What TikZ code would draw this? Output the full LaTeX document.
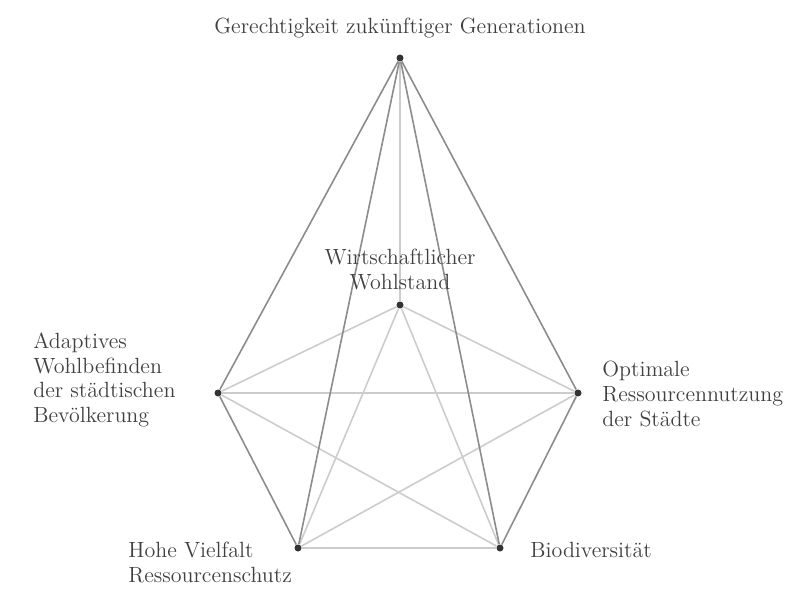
\documentclass[tikz,border=0pt]{standalone}
\usepackage{tikz}
\usetikzlibrary{positioning}
\begin{document}
\begin{tikzpicture}[
    x=0.5pt, y=-0.5pt,
    vtx/.style={circle, fill=black!80, inner sep=0pt, minimum size=3.5pt},
    edge/.style={draw=black!45, line width=0.8pt},
    back/.style={draw=black!20, line width=0.8pt},
    lbl/.style={font=\fontsize{11}{12.3}\selectfont, text=black!75, align=left, inner sep=0pt},
  ]
  \useasboundingbox (0,0) rectangle (796,593);

  % Vertices (apex and base)
  \node[vtx] (A)  at (400,58)  {};
  \node[vtx] (C)  at (400,305) {};
  \node[vtx] (L)  at (218,393) {};
  \node[vtx] (R)  at (578,393) {};
  \node[vtx] (BL) at (298,548) {};
  \node[vtx] (BR) at (500,548) {};

  % Base, back edges
  \draw[back] (L) -- (R);
  \draw[back] (BL) -- (BR);
  \draw[back] (L) -- (BR);
  \draw[back] (R) -- (BL);
  \draw[back] (C) -- (L);
  \draw[back] (C) -- (R);
  \draw[back] (C) -- (BL);
  \draw[back] (C) -- (BR);
  \draw[back] (A) -- (C);

  % Front edges
  \draw[edge] (A) -- (L);
  \draw[edge] (A) -- (R);
  \draw[edge] (A) -- (BL);
  \draw[edge] (A) -- (BR);
  \draw[edge] (L) -- (BL);
  \draw[edge] (R) -- (BR);

  % Labels
  \node[lbl, anchor=south] (tA) at (400,38) {Gerechtigkeit zukünftiger Generationen};
  \node[lbl, align=center, anchor=south] (tC) at (400,290) {Wirtschaftlicher\\Wohlstand};
  \node[lbl, anchor=west] (tL) at (33,380) {Adaptives\\Wohlbefinden\\der städtischen\\Bevölkerung};
  \node[lbl, anchor=west] (tR) at (602,394) {Optimale\\Ressourcennutzung\\der Städte};
  \node[lbl, anchor=north west] (tBL) at (128,542) {Hohe Vielfalt\\Ressourcenschutz};
  \node[lbl, anchor=north west] (tBR) at (530,542) {Biodiversität};
\end{tikzpicture}
\end{document}
